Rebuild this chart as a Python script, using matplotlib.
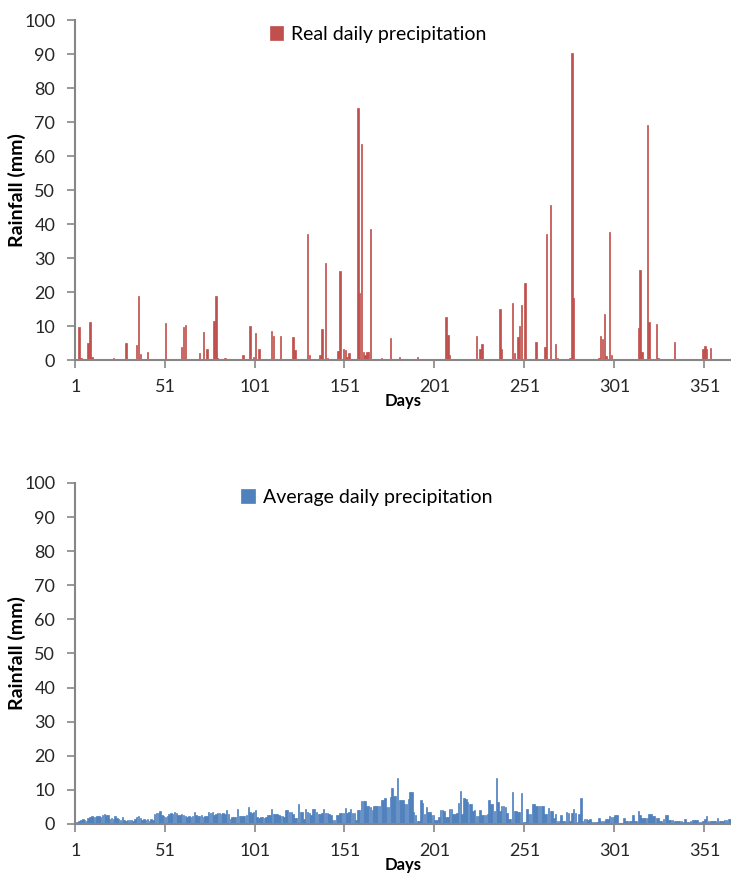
import numpy as np
import matplotlib
matplotlib.use('Agg')
import matplotlib.pyplot as plt

# observed rainfall: only the wet days, everything else is zero
wet_days = [3, 4, 8, 9, 10, 22, 23, 29, 35, 36, 37, 41, 51, 60, 61, 62, 70, 72, 74,
            78, 79, 80, 84, 94, 98, 100, 101, 103, 110, 111, 115, 122, 123, 130, 131,
            137, 138, 140, 141, 147, 148, 150, 151, 152, 153, 158, 159, 160, 161, 162,
            163, 164, 165, 171, 176, 181, 191, 207, 208, 209, 224, 226, 227, 237, 238,
            244, 245, 247, 248, 249, 251, 257, 262, 263, 265, 268, 269, 276, 277, 278,
            292, 293, 294, 295, 296, 298, 299, 314, 315, 316, 319, 320, 324, 325, 334,
            350, 351, 352, 354]
wet_mm = [9.6, 0.5, 5.0, 11.3, 0.8, 0.7, 0.3, 5.0, 4.5, 18.8, 1.8, 2.4, 10.8, 3.8, 9.6,
          10.2, 2.0, 8.3, 3.2, 11.6, 18.8, 0.5, 0.5, 1.5, 10.0, 0.8, 8.0, 3.2, 8.6, 7.2,
          7.2, 6.8, 2.9, 37.1, 1.5, 1.5, 9.1, 28.4, 0.5, 2.6, 26.2, 3.2, 2.9, 1.0, 2.0,
          74.0, 19.8, 63.4, 2.3, 1.5, 2.3, 2.3, 38.5, 0.5, 6.6, 1.0, 0.8, 12.8, 7.4, 1.5,
          7.1, 3.2, 4.8, 14.9, 3.2, 16.7, 2.0, 6.8, 10.0, 16.1, 22.6, 5.4, 3.7, 37.1,
          45.5, 4.7, 0.5, 0.5, 90.3, 18.3, 0.5, 7.1, 6.1, 13.4, 1.2, 37.7, 1.5, 9.3,
          26.6, 2.3, 69.0, 11.3, 10.7, 0.5, 5.4, 3.3, 4.0, 3.3, 3.6]

# long-term mean rainfall for each day of the year
avg_mm = [
    0.6, 0.7, 0.8, 1.3, 1.5, 1.2, 0.9, 1.8, 2.0, 2.3,
    2.1, 1.9, 2.2, 2.4, 2.0, 2.7, 2.8, 2.5, 2.6, 1.6,
    1.8, 1.5, 2.3, 1.7, 1.4, 1.3, 2.0, 1.2, 1.0, 1.1,
    1.3, 1.2, 0.9, 1.4, 2.0, 2.4, 1.8, 1.3, 1.5, 1.2,
    1.4, 1.0, 1.6, 1.3, 2.9, 3.1, 3.2, 3.9, 2.6, 2.2,
    2.0, 2.3, 3.0, 3.2, 2.9, 3.5, 3.3, 2.7, 2.5, 2.8,
    2.6, 2.4, 2.1, 2.3, 2.0, 2.2, 3.4, 2.6, 2.4, 2.2,
    2.5, 2.1, 2.3, 2.4, 3.5, 3.3, 3.4, 2.6, 3.0, 3.2,
    3.1, 2.9, 3.3, 3.0, 4.1, 3.0, 1.6, 2.0, 2.0, 2.0,
    4.5, 2.2, 2.2, 2.2, 2.3, 2.5, 5.0, 3.5, 3.3, 3.6,
    4.2, 1.9, 1.8, 2.0, 1.9, 1.7, 2.0, 2.5, 2.6, 4.5,
    2.8, 2.9, 2.8, 2.7, 2.2, 2.3, 2.1, 4.2, 4.0, 3.5,
    3.5, 3.0, 1.8, 1.7, 6.0, 3.5, 3.4, 1.6, 4.5, 3.5,
    3.3, 2.5, 4.5, 4.5, 3.5, 3.0, 3.0, 3.3, 4.5, 3.2,
    3.2, 2.8, 2.5, 1.1, 1.1, 2.5, 2.6, 3.2, 3.2, 3.3,
    4.8, 3.2, 3.5, 4.5, 3.3, 3.3, 1.1, 4.0, 4.0, 6.8,
    6.8, 6.6, 5.3, 5.3, 5.0, 4.0, 5.3, 5.3, 5.2, 5.2,
    6.9, 7.0, 7.5, 4.9, 4.9, 7.8, 10.6, 8.3, 8.3, 13.5,
    6.9, 7.1, 7.0, 5.9, 5.9, 7.4, 9.3, 9.3, 3.4, 2.5,
    1.0, 1.0, 6.9, 6.2, 2.9, 4.9, 3.4, 3.4, 2.6, 2.6,
    1.2, 1.2, 2.0, 4.1, 4.1, 3.9, 2.0, 2.0, 4.4, 4.4,
    2.9, 2.9, 3.1, 6.1, 9.6, 2.9, 7.5, 7.4, 6.4, 5.9,
    5.9, 3.9, 4.1, 2.2, 2.2, 4.1, 2.7, 2.7, 2.7, 2.9,
    6.9, 5.9, 5.9, 3.9, 13.5, 6.4, 3.9, 5.4, 5.4, 4.9,
    3.1, 1.5, 1.5, 9.3, 3.9, 3.9, 3.4, 3.4, 9.0, 0.5,
    0.5, 4.4, 2.9, 2.9, 5.9, 5.9, 5.4, 5.4, 5.4, 5.4,
    5.4, 2.9, 2.9, 4.7, 3.9, 3.9, 1.8, 2.9, 1.0, 1.0,
    2.5, 1.0, 1.0, 3.6, 3.1, 1.0, 3.2, 4.4, 3.2, 0.5,
    2.9, 7.5, 1.0, 1.5, 1.5, 1.2, 1.5, 0.7, 0.7, 0.5,
    0.5, 1.8, 0.8, 0.8, 0.8, 1.5, 1.5, 2.2, 2.0, 2.0,
    2.5, 2.5, 0.0, 0.0, 0.1, 1.8, 0.9, 0.9, 0.9, 0.9,
    2.7, 0.9, 0.9, 3.9, 2.7, 1.8, 1.8, 1.7, 1.7, 2.9,
    2.9, 2.2, 2.2, 1.8, 1.8, 1.0, 1.0, 1.5, 2.5, 2.5,
    1.2, 1.2, 1.2, 0.8, 0.8, 1.0, 1.0, 1.0, 0.5, 1.5,
    0.5, 0.5, 1.0, 1.2, 1.2, 1.3, 1.3, 0.7, 0.7, 1.0,
    1.5, 2.2, 0.8, 0.8, 1.0, 1.0, 1.0, 1.7, 1.0, 0.8,
    0.8, 1.3, 1.3, 1.4, 1.4,
]

days = np.arange(1, 366)
real_mm = np.zeros(365)
real_mm[np.array(wet_days) - 1] = wet_mm

RED = '#C0504D'
BLUE = '#4F81BD'
AXIS_GREY = '#868686'

plt.rcParams['font.family'] = ['Lato', 'DejaVu Sans']

fig = plt.figure(figsize=(7.31, 8.76), dpi=100)
ax_top = fig.add_axes([0.1022, 0.5890, 0.8978, 0.3881])
ax_bot = fig.add_axes([0.1022, 0.0594, 0.8978, 0.3893])


def style_panel(ax, values, color, label, legend_x):
    # edge in the same colour keeps the 2px-wide bars from vanishing
    ax.bar(days, values, width=0.8, color=color, edgecolor=color, linewidth=0.5,
           label=label)
    ax.set_xlim(0.5, 365.5)
    ax.set_ylim(0, 100)
    ax.set_yticks(np.arange(0, 101, 10))
    ax.set_xticks(np.arange(1, 366, 50))
    ax.set_xticks(np.arange(0.5, 366, 50), minor=True)
    ax.tick_params(axis='x', which='major', length=0, pad=14, labelsize=13,
                   labelcolor='#262626')
    ax.tick_params(axis='x', which='minor', length=6, width=1.2, color=AXIS_GREY)
    ax.tick_params(axis='y', length=6, width=1.2, color=AXIS_GREY, labelsize=13,
                   pad=8, labelcolor='#262626')
    for side in ('top', 'right'):
        ax.spines[side].set_visible(False)
    for side in ('left', 'bottom'):
        ax.spines[side].set_color(AXIS_GREY)
        ax.spines[side].set_linewidth(1.5)
    ax.set_ylabel('Rainfall (mm)', fontsize=14, fontweight='bold')
    ax.yaxis.set_label_coords(-0.074, 0.5)
    ax.set_xlabel('Days', fontsize=12, fontweight='bold', labelpad=-2)
    ax.legend(loc='upper center', bbox_to_anchor=(legend_x, 1.035), frameon=False,
              fontsize=14, handlelength=0.7, handleheight=0.7, handletextpad=0.4)


style_panel(ax_top, real_mm, RED, 'Real daily precipitation', 0.462)
style_panel(ax_bot, avg_mm, BLUE, 'Average daily precipitation', 0.445)

fig.savefig('out.png', dpi=100, facecolor='white')
